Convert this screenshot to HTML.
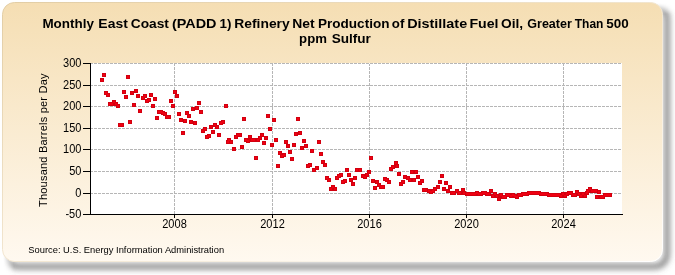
<!DOCTYPE html>
<html><head><meta charset="utf-8"><style>
html,body{margin:0;padding:0;background:#fff;width:675px;height:275px;overflow:hidden}
svg{display:block;will-change:transform}
.t{font-family:"Liberation Sans",sans-serif;font-size:12px;fill:#000}
.yt{font-family:"Liberation Sans",sans-serif;font-size:11px;fill:#000}
.ti{font-family:"Liberation Sans",sans-serif;font-size:13.6px;font-weight:bold;fill:#000}
.s{font-family:"Liberation Sans",sans-serif;font-size:9.8px;fill:#000}
</style></head><body>
<svg width="675" height="275" viewBox="0 0 675 275">
<defs><linearGradient id="g" x1="0" y1="0" x2="0" y2="1"><stop offset="0" stop-color="#F5DEB3"/><stop offset="1" stop-color="#FFF9F0"/></linearGradient><linearGradient id="bd" x1="0" y1="0" x2="1" y2="1"><stop offset="0" stop-color="#E2CDA4"/><stop offset="0.5" stop-color="#F2E6D0"/><stop offset="1" stop-color="#FFFFFF"/></linearGradient><linearGradient id="mv" gradientUnits="userSpaceOnUse" x1="0" y1="3" x2="0" y2="14"><stop offset="0" stop-color="#000"/><stop offset="1" stop-color="#fff"/></linearGradient><linearGradient id="mh" gradientUnits="userSpaceOnUse" x1="3" y1="0" x2="14" y2="0"><stop offset="0" stop-color="#000"/><stop offset="1" stop-color="#fff"/></linearGradient><mask id="mkv" maskUnits="userSpaceOnUse" x="0" y="0" width="675" height="275"><rect width="675" height="275" fill="url(#mv)"/></mask><mask id="mkh" maskUnits="userSpaceOnUse" x="0" y="0" width="675" height="275"><rect width="675" height="275" fill="url(#mh)"/></mask><filter id="sh" x="-5%" y="-5%" width="110%" height="115%"><feGaussianBlur stdDeviation="3.4"/></filter></defs>
<g mask="url(#mkv)"><g mask="url(#mkh)"><rect x="6" y="6.5" width="661" height="260" rx="12" fill="none" stroke="#585858" stroke-width="4" filter="url(#sh)"/></g></g>
<rect x="2.5" y="2.5" width="660" height="259" rx="12" fill="url(#g)" stroke="url(#bd)" stroke-width="1"/>
<rect x="90" y="63" width="532" height="151" fill="#FFFFFF"/>
<line x1="91" y1="85.5" x2="622" y2="85.5" stroke="#b6b6b6" stroke-width="1" stroke-dasharray="3,1" stroke-dashoffset="1"/>
<line x1="91" y1="106.5" x2="622" y2="106.5" stroke="#b6b6b6" stroke-width="1" stroke-dasharray="3,1" stroke-dashoffset="1"/>
<line x1="91" y1="128.5" x2="622" y2="128.5" stroke="#b6b6b6" stroke-width="1" stroke-dasharray="3,1" stroke-dashoffset="1"/>
<line x1="91" y1="149.5" x2="622" y2="149.5" stroke="#b6b6b6" stroke-width="1" stroke-dasharray="3,1" stroke-dashoffset="1"/>
<line x1="91" y1="171.5" x2="622" y2="171.5" stroke="#b6b6b6" stroke-width="1" stroke-dasharray="3,1" stroke-dashoffset="1"/>
<line x1="91" y1="193.5" x2="622" y2="193.5" stroke="#b6b6b6" stroke-width="1" stroke-dasharray="3,1" stroke-dashoffset="1"/>
<line x1="91" y1="63.5" x2="622" y2="63.5" stroke="#b6b6b6" stroke-width="1" stroke-dasharray="3,1" stroke-dashoffset="1"/>
<line x1="174.5" y1="64" x2="174.5" y2="214" stroke="#b6b6b6" stroke-width="1" stroke-dasharray="3,1" stroke-dashoffset="1"/>
<line x1="272.5" y1="64" x2="272.5" y2="214" stroke="#b6b6b6" stroke-width="1" stroke-dasharray="3,1" stroke-dashoffset="1"/>
<line x1="369.5" y1="64" x2="369.5" y2="214" stroke="#b6b6b6" stroke-width="1" stroke-dasharray="3,1" stroke-dashoffset="1"/>
<line x1="466.5" y1="64" x2="466.5" y2="214" stroke="#b6b6b6" stroke-width="1" stroke-dasharray="3,1" stroke-dashoffset="1"/>
<line x1="563.5" y1="64" x2="563.5" y2="214" stroke="#b6b6b6" stroke-width="1" stroke-dasharray="3,1" stroke-dashoffset="1"/>
<path d="M100 78h4v4h-4zM102 73h4v4h-4zM104 91h4v4h-4zM106 93h4v4h-4zM108 102h4v4h-4zM110 102h4v4h-4zM112 100h4v4h-4zM114 102h4v4h-4zM116 104h4v4h-4zM118 123h4v4h-4zM120 123h4v4h-4zM122 90h4v4h-4zM124 95h4v4h-4zM126 75h4v4h-4zM128 120h4v4h-4zM130 91h4v4h-4zM132 103h4v4h-4zM134 89h4v4h-4zM136 94h4v4h-4zM138 109h4v4h-4zM141 96h4v4h-4zM143 94h4v4h-4zM145 99h4v4h-4zM147 98h4v4h-4zM149 93h4v4h-4zM151 104h4v4h-4zM153 97h4v4h-4zM155 116h4v4h-4zM157 110h4v4h-4zM159 110h4v4h-4zM161 111h4v4h-4zM163 112h4v4h-4zM165 115h4v4h-4zM167 115h4v4h-4zM169 99h4v4h-4zM171 104h4v4h-4zM173 90h4v4h-4zM175 94h4v4h-4zM177 112h4v4h-4zM179 118h4v4h-4zM181 131h4v4h-4zM183 119h4v4h-4zM185 111h4v4h-4zM187 114h4v4h-4zM189 120h4v4h-4zM191 107h4v4h-4zM193 121h4v4h-4zM195 106h4v4h-4zM197 101h4v4h-4zM199 110h4v4h-4zM201 129h4v4h-4zM203 127h4v4h-4zM205 135h4v4h-4zM207 134h4v4h-4zM209 125h4v4h-4zM211 130h4v4h-4zM213 123h4v4h-4zM215 125h4v4h-4zM217 133h4v4h-4zM219 121h4v4h-4zM221 120h4v4h-4zM224 104h4v4h-4zM226 140h4v4h-4zM227 138h4v4h-4zM229 140h4v4h-4zM232 147h4v4h-4zM234 135h4v4h-4zM236 133h4v4h-4zM238 133h4v4h-4zM240 145h4v4h-4zM242 117h4v4h-4zM244 138h4v4h-4zM246 139h4v4h-4zM248 135h4v4h-4zM250 138h4v4h-4zM252 138h4v4h-4zM254 156h4v4h-4zM256 138h4v4h-4zM258 136h4v4h-4zM260 133h4v4h-4zM262 141h4v4h-4zM264 136h4v4h-4zM266 114h4v4h-4zM268 127h4v4h-4zM270 143h4v4h-4zM272 118h4v4h-4zM274 138h4v4h-4zM276 164h4v4h-4zM278 151h4v4h-4zM280 154h4v4h-4zM282 153h4v4h-4zM284 140h4v4h-4zM286 144h4v4h-4zM288 150h4v4h-4zM290 157h4v4h-4zM292 143h4v4h-4zM294 132h4v4h-4zM296 117h4v4h-4zM298 131h4v4h-4zM300 146h4v4h-4zM302 139h4v4h-4zM304 144h4v4h-4zM306 164h4v4h-4zM308 163h4v4h-4zM310 149h4v4h-4zM312 168h4v4h-4zM315 166h4v4h-4zM317 140h4v4h-4zM319 152h4v4h-4zM321 160h4v4h-4zM323 163h4v4h-4zM325 176h4v4h-4zM327 178h4v4h-4zM329 187h4v4h-4zM331 185h4v4h-4zM333 187h4v4h-4zM335 176h4v4h-4zM337 174h4v4h-4zM339 173h4v4h-4zM341 180h4v4h-4zM343 179h4v4h-4zM345 168h4v4h-4zM347 173h4v4h-4zM349 178h4v4h-4zM351 182h4v4h-4zM353 176h4v4h-4zM355 168h4v4h-4zM358 168h4v4h-4zM361 174h4v4h-4zM363 175h4v4h-4zM365 173h4v4h-4zM367 170h4v4h-4zM369 156h4v4h-4zM371 179h4v4h-4zM373 186h4v4h-4zM375 180h4v4h-4zM377 183h4v4h-4zM379 185h4v4h-4zM381 185h4v4h-4zM383 177h4v4h-4zM385 178h4v4h-4zM387 180h4v4h-4zM389 167h4v4h-4zM391 165h4v4h-4zM394 161h4v4h-4zM395 164h4v4h-4zM397 172h4v4h-4zM399 182h4v4h-4zM401 180h4v4h-4zM403 175h4v4h-4zM406 176h4v4h-4zM408 178h4v4h-4zM410 170h4v4h-4zM412 178h4v4h-4zM414 170h4v4h-4zM416 175h4v4h-4zM418 181h4v4h-4zM420 179h4v4h-4zM422 188h4v4h-4zM424 188h4v4h-4zM427 189h4v4h-4zM429 190h4v4h-4zM431 189h4v4h-4zM433 187h4v4h-4zM436 185h4v4h-4zM438 180h4v4h-4zM440 174h4v4h-4zM442 187h4v4h-4zM444 181h4v4h-4zM446 189h4v4h-4zM448 185h4v4h-4zM450 191h4v4h-4zM452 191h4v4h-4zM455 189h4v4h-4zM457 191h4v4h-4zM458 191h4v4h-4zM461 188h4v4h-4zM462 191h4v4h-4zM465 192h4v4h-4zM467 192h4v4h-4zM469 192h4v4h-4zM471 192h4v4h-4zM473 192h4v4h-4zM475 191h4v4h-4zM477 192h4v4h-4zM479 192h4v4h-4zM481 191h4v4h-4zM483 191h4v4h-4zM485 192h4v4h-4zM487 192h4v4h-4zM489 189h4v4h-4zM491 194h4v4h-4zM493 192h4v4h-4zM495 194h4v4h-4zM497 197h4v4h-4zM499 193h4v4h-4zM501 195h4v4h-4zM503 195h4v4h-4zM505 193h4v4h-4zM507 193h4v4h-4zM509 194h4v4h-4zM511 193h4v4h-4zM513 194h4v4h-4zM515 195h4v4h-4zM517 193h4v4h-4zM519 193h4v4h-4zM521 192h4v4h-4zM523 192h4v4h-4zM525 192h4v4h-4zM527 191h4v4h-4zM529 191h4v4h-4zM531 191h4v4h-4zM533 191h4v4h-4zM535 191h4v4h-4zM537 191h4v4h-4zM539 192h4v4h-4zM541 192h4v4h-4zM543 192h4v4h-4zM545 192h4v4h-4zM547 193h4v4h-4zM549 193h4v4h-4zM551 193h4v4h-4zM553 193h4v4h-4zM555 193h4v4h-4zM557 193h4v4h-4zM559 194h4v4h-4zM561 192h4v4h-4zM563 194h4v4h-4zM565 192h4v4h-4zM567 191h4v4h-4zM569 191h4v4h-4zM571 193h4v4h-4zM573 193h4v4h-4zM575 190h4v4h-4zM577 192h4v4h-4zM579 194h4v4h-4zM581 192h4v4h-4zM583 194h4v4h-4zM585 191h4v4h-4zM586 189h4v4h-4zM588 187h4v4h-4zM590 189h4v4h-4zM592 189h4v4h-4zM594 189h4v4h-4zM595 195h4v4h-4zM597 190h4v4h-4zM599 195h4v4h-4zM601 195h4v4h-4zM603 193h4v4h-4zM605 193h4v4h-4zM607 193h4v4h-4zM608 193h4v4h-4z" fill="#D2000F"/>
<path d="M101 79h2v2h-2zM103 74h2v2h-2zM105 92h2v2h-2zM107 94h2v2h-2zM109 103h2v2h-2zM111 103h2v2h-2zM113 101h2v2h-2zM115 103h2v2h-2zM117 105h2v2h-2zM119 124h2v2h-2zM121 124h2v2h-2zM123 91h2v2h-2zM125 96h2v2h-2zM127 76h2v2h-2zM129 121h2v2h-2zM131 92h2v2h-2zM133 104h2v2h-2zM135 90h2v2h-2zM137 95h2v2h-2zM139 110h2v2h-2zM142 97h2v2h-2zM144 95h2v2h-2zM146 100h2v2h-2zM148 99h2v2h-2zM150 94h2v2h-2zM152 105h2v2h-2zM154 98h2v2h-2zM156 117h2v2h-2zM158 111h2v2h-2zM160 111h2v2h-2zM162 112h2v2h-2zM164 113h2v2h-2zM166 116h2v2h-2zM168 116h2v2h-2zM170 100h2v2h-2zM172 105h2v2h-2zM174 91h2v2h-2zM176 95h2v2h-2zM178 113h2v2h-2zM180 119h2v2h-2zM182 132h2v2h-2zM184 120h2v2h-2zM186 112h2v2h-2zM188 115h2v2h-2zM190 121h2v2h-2zM192 108h2v2h-2zM194 122h2v2h-2zM196 107h2v2h-2zM198 102h2v2h-2zM200 111h2v2h-2zM202 130h2v2h-2zM204 128h2v2h-2zM206 136h2v2h-2zM208 135h2v2h-2zM210 126h2v2h-2zM212 131h2v2h-2zM214 124h2v2h-2zM216 126h2v2h-2zM218 134h2v2h-2zM220 122h2v2h-2zM222 121h2v2h-2zM225 105h2v2h-2zM227 141h2v2h-2zM228 139h2v2h-2zM230 141h2v2h-2zM233 148h2v2h-2zM235 136h2v2h-2zM237 134h2v2h-2zM239 134h2v2h-2zM241 146h2v2h-2zM243 118h2v2h-2zM245 139h2v2h-2zM247 140h2v2h-2zM249 136h2v2h-2zM251 139h2v2h-2zM253 139h2v2h-2zM255 157h2v2h-2zM257 139h2v2h-2zM259 137h2v2h-2zM261 134h2v2h-2zM263 142h2v2h-2zM265 137h2v2h-2zM267 115h2v2h-2zM269 128h2v2h-2zM271 144h2v2h-2zM273 119h2v2h-2zM275 139h2v2h-2zM277 165h2v2h-2zM279 152h2v2h-2zM281 155h2v2h-2zM283 154h2v2h-2zM285 141h2v2h-2zM287 145h2v2h-2zM289 151h2v2h-2zM291 158h2v2h-2zM293 144h2v2h-2zM295 133h2v2h-2zM297 118h2v2h-2zM299 132h2v2h-2zM301 147h2v2h-2zM303 140h2v2h-2zM305 145h2v2h-2zM307 165h2v2h-2zM309 164h2v2h-2zM311 150h2v2h-2zM313 169h2v2h-2zM316 167h2v2h-2zM318 141h2v2h-2zM320 153h2v2h-2zM322 161h2v2h-2zM324 164h2v2h-2zM326 177h2v2h-2zM328 179h2v2h-2zM330 188h2v2h-2zM332 186h2v2h-2zM334 188h2v2h-2zM336 177h2v2h-2zM338 175h2v2h-2zM340 174h2v2h-2zM342 181h2v2h-2zM344 180h2v2h-2zM346 169h2v2h-2zM348 174h2v2h-2zM350 179h2v2h-2zM352 183h2v2h-2zM354 177h2v2h-2zM356 169h2v2h-2zM359 169h2v2h-2zM362 175h2v2h-2zM364 176h2v2h-2zM366 174h2v2h-2zM368 171h2v2h-2zM370 157h2v2h-2zM372 180h2v2h-2zM374 187h2v2h-2zM376 181h2v2h-2zM378 184h2v2h-2zM380 186h2v2h-2zM382 186h2v2h-2zM384 178h2v2h-2zM386 179h2v2h-2zM388 181h2v2h-2zM390 168h2v2h-2zM392 166h2v2h-2zM395 162h2v2h-2zM396 165h2v2h-2zM398 173h2v2h-2zM400 183h2v2h-2zM402 181h2v2h-2zM404 176h2v2h-2zM407 177h2v2h-2zM409 179h2v2h-2zM411 171h2v2h-2zM413 179h2v2h-2zM415 171h2v2h-2zM417 176h2v2h-2zM419 182h2v2h-2zM421 180h2v2h-2zM423 189h2v2h-2zM425 189h2v2h-2zM428 190h2v2h-2zM430 191h2v2h-2zM432 190h2v2h-2zM434 188h2v2h-2zM437 186h2v2h-2zM439 181h2v2h-2zM441 175h2v2h-2zM443 188h2v2h-2zM445 182h2v2h-2zM447 190h2v2h-2zM449 186h2v2h-2zM451 192h2v2h-2zM453 192h2v2h-2zM456 190h2v2h-2zM458 192h2v2h-2zM459 192h2v2h-2zM462 189h2v2h-2zM463 192h2v2h-2zM466 193h2v2h-2zM468 193h2v2h-2zM470 193h2v2h-2zM472 193h2v2h-2zM474 193h2v2h-2zM476 192h2v2h-2zM478 193h2v2h-2zM480 193h2v2h-2zM482 192h2v2h-2zM484 192h2v2h-2zM486 193h2v2h-2zM488 193h2v2h-2zM490 190h2v2h-2zM492 195h2v2h-2zM494 193h2v2h-2zM496 195h2v2h-2zM498 198h2v2h-2zM500 194h2v2h-2zM502 196h2v2h-2zM504 196h2v2h-2zM506 194h2v2h-2zM508 194h2v2h-2zM510 195h2v2h-2zM512 194h2v2h-2zM514 195h2v2h-2zM516 196h2v2h-2zM518 194h2v2h-2zM520 194h2v2h-2zM522 193h2v2h-2zM524 193h2v2h-2zM526 193h2v2h-2zM528 192h2v2h-2zM530 192h2v2h-2zM532 192h2v2h-2zM534 192h2v2h-2zM536 192h2v2h-2zM538 192h2v2h-2zM540 193h2v2h-2zM542 193h2v2h-2zM544 193h2v2h-2zM546 193h2v2h-2zM548 194h2v2h-2zM550 194h2v2h-2zM552 194h2v2h-2zM554 194h2v2h-2zM556 194h2v2h-2zM558 194h2v2h-2zM560 195h2v2h-2zM562 193h2v2h-2zM564 195h2v2h-2zM566 193h2v2h-2zM568 192h2v2h-2zM570 192h2v2h-2zM572 194h2v2h-2zM574 194h2v2h-2zM576 191h2v2h-2zM578 193h2v2h-2zM580 195h2v2h-2zM582 193h2v2h-2zM584 195h2v2h-2zM586 192h2v2h-2zM587 190h2v2h-2zM589 188h2v2h-2zM591 190h2v2h-2zM593 190h2v2h-2zM595 190h2v2h-2zM596 196h2v2h-2zM598 191h2v2h-2zM600 196h2v2h-2zM602 196h2v2h-2zM604 194h2v2h-2zM606 194h2v2h-2zM608 194h2v2h-2zM609 194h2v2h-2z" fill="#F00012"/>
<line x1="90.5" y1="63" x2="90.5" y2="215" stroke="#000" stroke-width="1"/>
<line x1="90" y1="214.5" x2="623" y2="214.5" stroke="#000" stroke-width="1"/>
<line x1="83" y1="63.5" x2="90" y2="63.5" stroke="#000" stroke-width="1"/>
<line x1="83" y1="85.5" x2="90" y2="85.5" stroke="#000" stroke-width="1"/>
<line x1="83" y1="106.5" x2="90" y2="106.5" stroke="#000" stroke-width="1"/>
<line x1="83" y1="128.5" x2="90" y2="128.5" stroke="#000" stroke-width="1"/>
<line x1="83" y1="149.5" x2="90" y2="149.5" stroke="#000" stroke-width="1"/>
<line x1="83" y1="171.5" x2="90" y2="171.5" stroke="#000" stroke-width="1"/>
<line x1="83" y1="193.5" x2="90" y2="193.5" stroke="#000" stroke-width="1"/>
<line x1="83" y1="214.5" x2="90" y2="214.5" stroke="#000" stroke-width="1"/>
<line x1="174.5" y1="214" x2="174.5" y2="218" stroke="#000" stroke-width="1"/>
<line x1="272.5" y1="214" x2="272.5" y2="218" stroke="#000" stroke-width="1"/>
<line x1="369.5" y1="214" x2="369.5" y2="218" stroke="#000" stroke-width="1"/>
<line x1="466.5" y1="214" x2="466.5" y2="218" stroke="#000" stroke-width="1"/>
<line x1="563.5" y1="214" x2="563.5" y2="218" stroke="#000" stroke-width="1"/>
<text transform="translate(81.4,67) scale(0.92,1)" text-anchor="end" class="t">300</text>
<text transform="translate(81.4,89) scale(0.92,1)" text-anchor="end" class="t">250</text>
<text transform="translate(81.4,110) scale(0.92,1)" text-anchor="end" class="t">200</text>
<text transform="translate(81.4,132) scale(0.92,1)" text-anchor="end" class="t">150</text>
<text transform="translate(81.4,153) scale(0.92,1)" text-anchor="end" class="t">100</text>
<text transform="translate(81.4,175) scale(0.92,1)" text-anchor="end" class="t">50</text>
<text transform="translate(81.4,197) scale(0.92,1)" text-anchor="end" class="t">0</text>
<text transform="translate(81.4,218) scale(0.92,1)" text-anchor="end" class="t">-50</text>
<text transform="translate(174.5,227.6) scale(0.92,1)" text-anchor="middle" class="t">2008</text>
<text transform="translate(272.5,227.6) scale(0.92,1)" text-anchor="middle" class="t">2012</text>
<text transform="translate(369.5,227.6) scale(0.92,1)" text-anchor="middle" class="t">2016</text>
<text transform="translate(466.5,227.6) scale(0.92,1)" text-anchor="middle" class="t">2020</text>
<text transform="translate(563.5,227.6) scale(0.92,1)" text-anchor="middle" class="t">2024</text>
<text transform="translate(42.40,27.6) scale(0.9889,1)" class="ti">Monthly</text>
<text transform="translate(98.37,27.6) scale(1.0248,1)" class="ti">East</text>
<text transform="translate(130.68,27.6) scale(1.0133,1)" class="ti">Coast</text>
<text transform="translate(171.95,27.6) scale(1.0603,1)" class="ti">(PADD</text>
<text transform="translate(219.55,27.6) scale(0.9863,1)" class="ti">1)</text>
<text transform="translate(234.28,27.6) scale(1.0195,1)" class="ti">Refinery</text>
<text transform="translate(292.17,27.6) scale(1.0213,1)" class="ti">Net</text>
<text transform="translate(318.00,27.6) scale(0.9966,1)" class="ti">Production</text>
<text transform="translate(391.84,27.6) scale(0.9754,1)" class="ti">of</text>
<text transform="translate(407.14,27.6) scale(1.0600,1)" class="ti">Distillate</text>
<text transform="translate(469.46,27.6) scale(1.0400,1)" class="ti">Fuel</text>
<text transform="translate(500.98,27.6) scale(1.0140,1)" class="ti">Oil,</text>
<text transform="translate(527.24,27.6) scale(0.9228,1)" class="ti">Greater</text>
<text transform="translate(574.74,27.6) scale(0.8823,1)" class="ti">Than</text>
<text transform="translate(606.18,27.6) scale(0.9891,1)" class="ti">500</text>
<text transform="translate(299.10,42.6) scale(0.9700,1)" class="ti">ppm</text>
<text transform="translate(331.66,42.6) scale(0.9990,1)" class="ti">Sulfur</text>
<text transform="translate(47,207) rotate(-90)" textLength="133.5" lengthAdjust="spacing" class="yt">Thousand Barrels per Day</text>
<text x="28.3" y="252.8" textLength="195.8" lengthAdjust="spacingAndGlyphs" class="s">Source: U.S. Energy Information Administration</text>
</svg>
</body></html>
